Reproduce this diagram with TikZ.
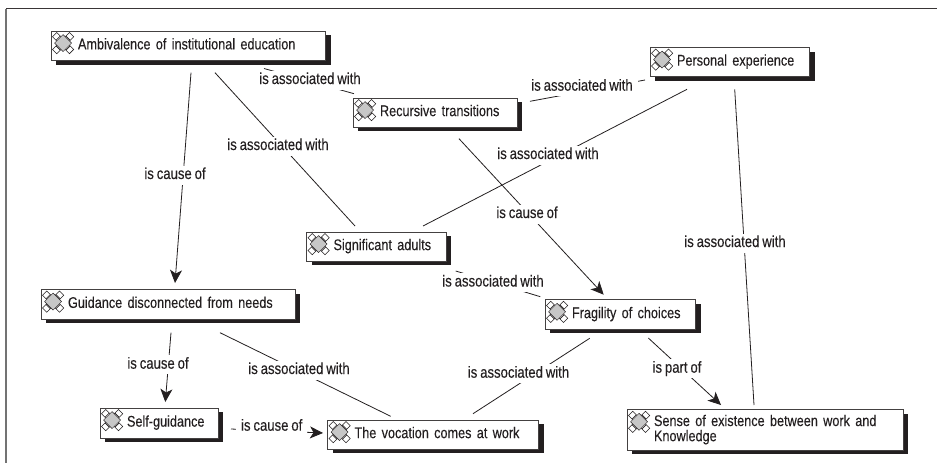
\documentclass[tikz,border=0pt]{standalone}
\usepackage{fontspec}
\setmainfont[FakeStretch=0.82,WordSpace=0.8,FakeBold=0.15]{Liberation Sans}
\usetikzlibrary{arrows.meta,shadows}
\definecolor{ink}{HTML}{231F20}
\newcommand\btext[1]{\hspace*{27pt}\raisebox{-1pt}{\fontsize{15.45}{15}\selectfont\renewcommand\arraystretch{.88}\begin{tabular}[c]{@{}l@{}}#1\end{tabular}}}
\tikzset{
  cicon/.pic={
    \foreach \r in {45,-45}{
      \begin{scope}[rotate=\r]
        \draw[ink,line width=.6pt,fill=white] (-12,-3) rectangle (12,3);
        \draw[ink,line width=.6pt] (-7,-3) -- (-7,3) (7,-3) -- (7,3);
      \end{scope}
    }
    \fill[black!22,draw=ink,line width=.4pt] (-8.5,0) -- (0,-8.5) -- (8.5,0) -- (0,8.5) -- cycle;
  },
  cbox/.style={draw=ink!85,line width=.8pt,fill=white,rectangle,inner sep=0pt,text=ink,
    drop shadow={shadow xshift=5pt,shadow yshift=-4pt,fill=ink,opacity=1}},
  lab/.style={fill=white,text=ink,inner xsep=5pt,inner ysep=2.5pt,text height=11pt,text depth=3pt},
  conn/.style={ink,line width=.8pt},
  arr/.style={conn,-{Stealth[length=13pt,width=12pt,inset=3.5pt]}},
}
\begin{document}
\begin{tikzpicture}[x=1pt,y=-1pt,font=\fontsize{16}{15.5}\selectfont]
\useasboundingbox (0,0) rectangle (937,463);
\fill[white] (0,0) rectangle (937,463);
\draw[black!55,line width=1.5pt] (6,463) -- (6,8.5);
\draw[ink!90,line width=.9pt] (6,8.5) -- (937,8.5);
% concept boxes
\node[cbox,text width=274.5pt,minimum height=29.5pt] (amb) at (188.25,45.75) {\btext{Ambivalence of institutional education}};
\node[cbox,text width=164pt,minimum height=29pt] (rec) at (435,112.5) {\btext{Recursive transitions}};
\node[cbox,text width=159.5pt,minimum height=29pt] (per) at (729.75,62) {\btext{Personal experience}};
\node[cbox,text width=139.5pt,minimum height=29pt] (sig) at (376.25,246.5) {\btext{Significant adults}};
\node[cbox,text width=254pt,minimum height=29.5pt] (gui) at (168,304.25) {\btext{Guidance disconnected from needs}};
\node[cbox,text width=118pt,minimum height=30pt] (sel) at (159,423) {\btext{Self-guidance}};
\node[cbox,text width=211pt,minimum height=29pt] (voc) at (433,434.5) {\btext{The vocation comes at work}};
\node[cbox,text width=150.5pt,minimum height=29.5pt] (fra) at (620.25,314.5) {\btext{Fragility of choices}};
\node[cbox,text width=276pt,minimum height=40.5pt] (sen) at (765,430) {\btext{Sense of existence between work and\\Knowledge}};
\foreach \n in {amb,rec,per,sig,gui,sel,voc,fra,sen}{
  \pic[shift={(12.5,12.5)}] at (\n.north west) {cicon};
}
% free ends of connectors
\coordinate (a1) at (264,68.5);   \coordinate (a2) at (354,93.7);
\coordinate (b1) at (215,72.7);   \coordinate (b2) at (355,226);
\coordinate (c1) at (191,72.7);   \coordinate (c2) at (175,283);
\coordinate (d1) at (530,101.3);  \coordinate (d2) at (645,80);
\coordinate (e1) at (687,89.3);   \coordinate (e2) at (423,226);
\coordinate (f1) at (734.7,89.3); \coordinate (f2) at (754,405);
\coordinate (g1) at (459,138.7);  \coordinate (g2) at (603.7,294.7);
\coordinate (h1) at (455.7,271);  \coordinate (h2) at (540.3,296.7);
\coordinate (i1) at (171,332.7);  \coordinate (i2) at (165.3,402);
\coordinate (j1) at (220,332.7);  \coordinate (j2) at (390.7,416.3);
\coordinate (k1) at (231,429);    \coordinate (k2) at (323,433);
\coordinate (m1) at (589.7,338.3);\coordinate (m2) at (473,413.7);
\coordinate (n1) at (648.3,338);  \coordinate (n2) at (721,405);
% connectors
\draw[conn] (a1) -- (a2);
\draw[conn] (b1) -- (b2);
\draw[arr]  (c1) -- (c2);
\draw[conn] (d1) -- (d2);
\draw[conn] (e1) -- (e2);
\draw[conn] (f1) -- (f2);
\draw[arr]  (g1) -- (g2);
\draw[conn] (h1) -- (h2);
\draw[arr]  (i1) -- (i2);
\draw[conn] (j1) -- (j2);
\draw[arr]  (k1) -- (k2);
\draw[conn] (m1) -- (m2);
\draw[arr]  (n1) -- (n2);
% connector labels
\node[lab] (la) at (310,80) {is associated with};
\node[lab] (lb) at (278,146) {is associated with};
\node[lab] (lc) at (175,175) {is cause of};
\node[lab] (ld) at (582,86.7) {is associated with};
\node[lab] (le) at (548,155) {is associated with};
\node[lab] (lf) at (735,243) {is associated with};
\node[lab] (lg) at (527,214) {is cause of};
\node[lab] (lh) at (493,282.5) {is associated with};
\node[lab] (li) at (158,364.7) {is cause of};
\node[lab] (lj) at (299,370) {is associated with};
\node[lab] (lk) at (271.7,426.7) {is cause of};
\node[lab] (lm) at (518.5,373.7) {is associated with};
\node[lab] (ln) at (677,368.7) {is part of};
\end{tikzpicture}
\end{document}
